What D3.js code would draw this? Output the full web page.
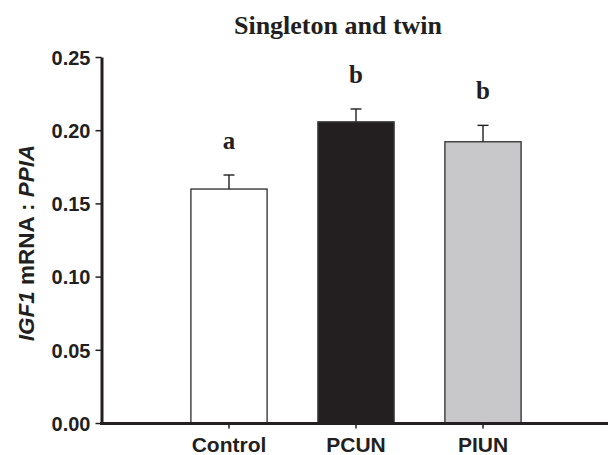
<!DOCTYPE html>
<html>
<head>
  <meta charset="utf-8">
  <title>Singleton and twin</title>
  <script src="https://cdn.jsdelivr.net/npm/d3@7"></script>
  <style>
    body { margin: 0; background: #fff; }
    .tick text { font-family: "Liberation Sans", Arial, sans-serif; font-weight: bold; fill: #231f20; }
    .serif { font-family: "Liberation Serif", "Times New Roman", serif; font-weight: bold; fill: #231f20; }
  </style>
</head>
<body>
<script>
  // values
  var groups = ["Control", "PCUN", "PIUN"];
  var means = [0.1598, 0.2057, 0.1921];
  var sems = [0.0096, 0.0088, 0.0112];
  var letters = ["a", "b", "b"];
  var fills = ["#ffffff", "#231f20", "#c8c8ca"];
  var yTicks = [0, 0.05, 0.10, 0.15, 0.20, 0.25];

  var W = 608, H = 455;

  var svg = d3.select("body").append("svg")
      .attr("width", W)
      .attr("height", H);

  var x = d3.scaleBand()
      .domain(groups)
      .range([102, 610])
      .paddingInner(0.4)
      .paddingOuter(0.7);

  var y = d3.scaleLinear()
      .domain([0, 0.25])
      .range([423, 57]);

  // bars
  svg.append("g").selectAll("rect")
      .data(groups)
      .enter().append("rect")
      .attr("x", function(d) { return x(d); })
      .attr("y", function(d, i) { return y(means[i]); })
      .attr("width", x.bandwidth())
      .attr("height", function(d, i) { return y(0) - y(means[i]); })
      .attr("fill", function(d, i) { return fills[i]; })
      .attr("stroke", "#3a3a3a")
      .attr("stroke-width", 1.4);

  // error bars (upper only)
  var err = svg.append("g").attr("stroke", "#231f20").attr("stroke-width", 1.4);
  groups.forEach(function(g, i) {
    var cx = x(g) + x.bandwidth() / 2;
    err.append("line")
        .attr("x1", cx).attr("x2", cx)
        .attr("y1", y(means[i])).attr("y2", y(means[i] + sems[i]));
    err.append("line")
        .attr("x1", cx - 5.5).attr("x2", cx + 5.5)
        .attr("y1", y(means[i] + sems[i])).attr("y2", y(means[i] + sems[i]));
  });

  // significance letters
  svg.append("g").selectAll("text")
      .data(letters)
      .enter().append("text")
      .attr("class", "serif")
      .attr("x", function(d, i) { return x(groups[i]) + x.bandwidth() / 2; })
      .attr("y", function(d, i) { return y(means[i] + sems[i]) - 26; })
      .attr("text-anchor", "middle")
      .style("font-size", "25px")
      .text(function(d) { return d; });

  // y axis
  var yAxis = d3.axisLeft(y)
      .tickValues(yTicks)
      .tickFormat(d3.format(".2f"))
      .tickSize(6)
      .tickPadding(5)
      .tickSizeOuter(0);

  var yG = svg.append("g")
      .attr("transform", "translate(101.5,0)")
      .call(yAxis);
  yG.select(".domain").attr("stroke", "#231f20").attr("stroke-width", 3);
  yG.selectAll(".tick line").attr("stroke", "#231f20").attr("stroke-width", 1.5);
  yG.selectAll(".tick text").style("font-size", "20px").attr("dy", "0.36em");

  // x axis
  var xAxis = d3.axisBottom(x)
      .tickSize(5)
      .tickPadding(9)
      .tickSizeOuter(0);

  var xG = svg.append("g")
      .attr("transform", "translate(0,423.5)")
      .call(xAxis);
  xG.select(".domain").attr("d", "M100,0H610").attr("stroke", "#231f20").attr("stroke-width", 3);
  xG.selectAll(".tick line").attr("stroke", "#231f20").attr("stroke-width", 1.5);
  xG.selectAll(".tick text").style("font-size", "21px").attr("dy", "0.68em");

  // title
  svg.append("text")
      .attr("class", "serif")
      .attr("x", 338)
      .attr("y", 34)
      .attr("text-anchor", "middle")
      .style("font-size", "26px")
      .text("Singleton and twin");

  // y axis title
  var yt = svg.append("text")
      .attr("transform", "translate(34,243) rotate(-90)")
      .attr("text-anchor", "middle")
      .style("font-family", "'Liberation Sans', Arial, sans-serif")
      .style("font-weight", "bold")
      .style("font-size", "22.5px")
      .attr("fill", "#231f20");
  yt.append("tspan").style("font-style", "italic").text("IGF1");
  yt.append("tspan").text(" mRNA : ");
  yt.append("tspan").style("font-style", "italic").text("PPIA");
</script>
</body>
</html>
